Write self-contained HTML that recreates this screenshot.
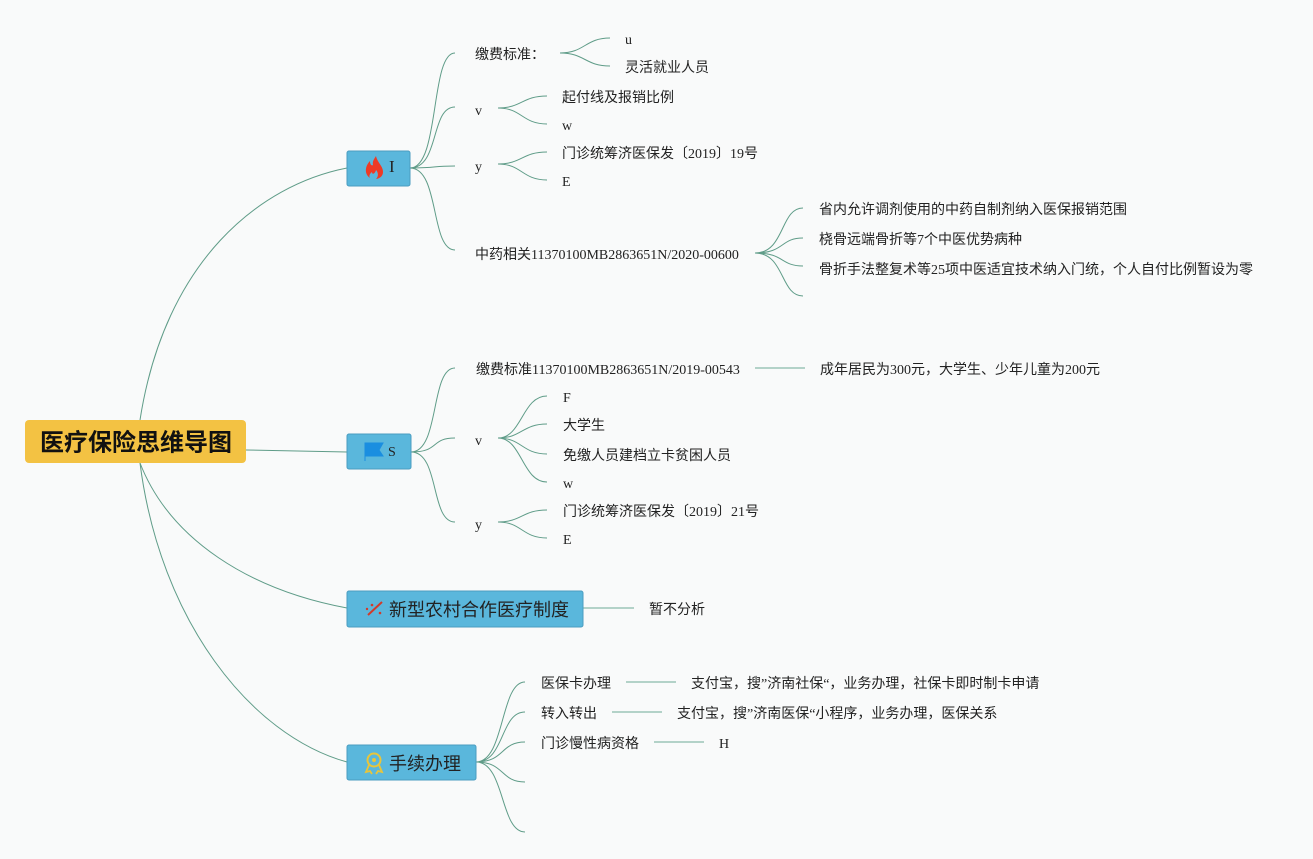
<!DOCTYPE html>
<html><head><meta charset="utf-8"><style>
html,body{margin:0;padding:0;background:#f9fafa;}
svg{display:block;font-family:"Liberation Serif","Noto Sans CJK SC",serif;}
.t{font-size:14px;fill:#222;dominant-baseline:middle;font-family:"Liberation Serif","Noto Sans CJK SC",serif;}
.c{fill:none;stroke:#5f9c88;stroke-width:1;}
.l{fill:none;stroke:#9cc4b8;stroke-width:1.5;}
</style></head><body>
<svg width="1313" height="859" viewBox="0 0 1313 859" xmlns="http://www.w3.org/2000/svg">
<path class="c" d="M140 420 C165 260 260 185 347 168"/>
<path class="c" d="M246 450 L347 452"/>
<path class="c" d="M140 463 C170 540 250 590 347 608"/>
<path class="c" d="M140 463 C160 620 250 735 347 762"/>
<path class="c" d="M410 168 C440 168 430 53 455 53"/>
<path class="c" d="M410 168 C440 168 430 107 455 107"/>
<path class="c" d="M410 168 C440 168 430 166 455 166"/>
<path class="c" d="M410 168 C440 168 430 250 455 250"/>
<path class="c" d="M560 53 C585 53 585 38 610 38 M560 53 C585 53 585 66 610 66"/>
<path class="c" d="M498 108 C522 108 522 96 547 96 M498 108 C522 108 522 124 547 124"/>
<path class="c" d="M498 164 C522 164 522 152 547 152 M498 164 C522 164 522 180 547 180"/>
<path class="c" d="M755 253 C785 253 780 208 803 208 M755 253 C785 253 780 238 803 238 M755 253 C785 253 780 266 803 266 M755 253 C785 253 780 296 803 296"/>
<path class="c" d="M411 452 C440 452 430 368 455 368"/>
<path class="c" d="M411 452 C440 452 430 438 455 438"/>
<path class="c" d="M411 452 C440 452 430 522 455 522"/>
<path class="l" d="M755 368 L805 368"/>
<path class="c" d="M498 438 C522 438 522 396 547 396 M498 438 C522 438 522 424 547 424 M498 438 C522 438 522 454 547 454 M498 438 C522 438 522 482 547 482"/>
<path class="c" d="M498 522 C522 522 522 510 547 510 M498 522 C522 522 522 538 547 538"/>
<path class="l" d="M583 608 L634 608"/>
<path class="c" d="M476 762 C505 762 500 682 525 682 M476 762 C505 762 500 712 525 712 M476 762 C505 762 500 742 525 742 M476 762 C505 762 500 782 525 782 M476 762 C505 762 500 832 525 832"/>
<path class="l" d="M626 682 L676 682 M612 712 L662 712 M654 742 L704 742"/>

<rect x="25" y="420" width="221" height="43" rx="4" fill="#f3c243"/>
<text x="136" y="444" text-anchor="middle" style="font-size:24px;font-weight:bold;font-family:'Liberation Sans','Noto Sans CJK SC',sans-serif;dominant-baseline:middle" fill="#111">医疗保险思维导图</text>

<rect x="347" y="151" width="63" height="35" rx="2" fill="#5ab7dc" stroke="#4a9cc0"/>
<path d="M370 178 C364 174 365 166 370 161 C370 165 372 166 373 165 C372 161 375 158 376 156 C377 162 383 166 383 172 C383 177 378 179 376 179 C379 176 378 172 376 170 C375 174 372 175 372 172 C369 174 369 177 370 178Z" fill="#ee3a25"/>
<text class="t" x="389" y="168" style="font-size:17px">I</text>

<rect x="347" y="434" width="64" height="35" rx="2" fill="#5ab7dc" stroke="#4a9cc0"/>
<path d="M365 443 L365 461 M365 443 L383 443 L379 450 L383 456 L365 456Z" fill="#1a8ee0" stroke="#1a8ee0"/>
<text class="t" x="388" y="453">S</text>

<rect x="347" y="591" width="236" height="36" rx="2" fill="#5ab7dc" stroke="#4a9cc0"/>
<path d="M368 615 L382 602" stroke="#d23a2a" stroke-width="2"/><circle cx="372" cy="605" r="1.3" fill="#d23a2a"/><circle cx="380" cy="613" r="1.3" fill="#d23a2a"/><circle cx="367" cy="609" r="1.2" fill="#d23a2a"/>
<text class="t" x="389" y="611" style="font-size:18px;font-family:'Liberation Sans','Noto Sans CJK SC',sans-serif">新型农村合作医疗制度</text>

<rect x="347" y="745" width="129" height="35" rx="2" fill="#5ab7dc" stroke="#4a9cc0"/>
<circle cx="374" cy="760" r="6.5" fill="none" stroke="#e9c53a" stroke-width="2"/><circle cx="374" cy="760" r="2" fill="#e9c53a"/><path d="M369 765 L366 772 L370 771 L372 774 M379 765 L382 772 L378 771 L376 774" stroke="#e9c53a" stroke-width="1.8" fill="none"/>
<text class="t" x="389" y="765" style="font-size:18px;font-family:'Liberation Sans','Noto Sans CJK SC',sans-serif">手续办理</text>

<g transform="translate(0,2)">
<text class="t" x="475" y="54">缴费标准：</text>
<text class="t" x="625" y="39">u</text>
<text class="t" x="625" y="67">灵活就业人员</text>
<text class="t" x="475" y="110">v</text>
<text class="t" x="562" y="97">起付线及报销比例</text>
<text class="t" x="562" y="125">w</text>
<text class="t" x="475" y="166">y</text>
<text class="t" x="562" y="153">门诊统筹济医保发〔2019〕19号</text>
<text class="t" x="562" y="181">E</text>
<text class="t" x="475" y="254">中药相关11370100MB2863651N/2020-00600</text>
<text class="t" x="819" y="209">省内允许调剂使用的中药自制剂纳入医保报销范围</text>
<text class="t" x="819" y="239">桡骨远端骨折等7个中医优势病种</text>
<text class="t" x="819" y="269">骨折手法整复术等25项中医适宜技术纳入门统，个人自付比例暂设为零</text>
<text class="t" x="476" y="369">缴费标准11370100MB2863651N/2019-00543</text>
<text class="t" x="820" y="369">成年居民为300元，大学生、少年儿童为200元</text>
<text class="t" x="475" y="440">v</text>
<text class="t" x="563" y="397">F</text>
<text class="t" x="563" y="425">大学生</text>
<text class="t" x="563" y="455">免缴人员建档立卡贫困人员</text>
<text class="t" x="563" y="483">w</text>
<text class="t" x="475" y="524">y</text>
<text class="t" x="563" y="511">门诊统筹济医保发〔2019〕21号</text>
<text class="t" x="563" y="539">E</text>
<text class="t" x="649" y="609">暂不分析</text>
<text class="t" x="541" y="683">医保卡办理</text>
<text class="t" x="691" y="683">支付宝，搜”济南社保“，业务办理，社保卡即时制卡申请</text>
<text class="t" x="541" y="713">转入转出</text>
<text class="t" x="677" y="713">支付宝，搜”济南医保“小程序，业务办理，医保关系</text>
<text class="t" x="541" y="743">门诊慢性病资格</text>
<text class="t" x="719" y="743">H</text>
</g>
</svg>
</body></html>
